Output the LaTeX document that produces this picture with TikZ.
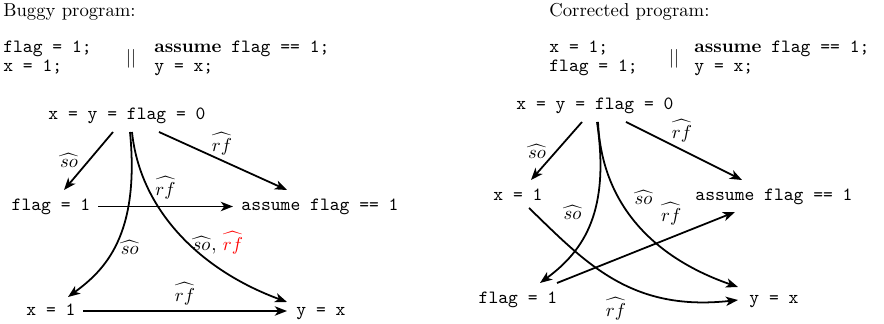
\documentclass[tikz,border=0pt]{standalone}
\usetikzlibrary{arrows.meta}
\newcommand{\soh}{\widehat{\mkern1mu so\mkern1mu}}
\newcommand{\rfh}{\widehat{rf}}
\begin{document}
\begin{tikzpicture}[x=0.535pt,y=-0.535pt,
  ev/.style={inner sep=0pt, font=\ttfamily, text height=6.5pt, text depth=2pt},
  hdr/.style={inner sep=0pt, anchor=base west},
  code/.style={hdr, font=\ttfamily},
  lbl/.style={inner sep=0pt},
  arr/.style={line width=0.95pt, -{Stealth[length=6.5pt,width=5pt,inset=1.8pt]}}]
\useasboundingbox (0,0) rectangle (884,324);

% ---------- left: buggy program ----------
\node[hdr] (lt) at (3,17) {Buggy program:};
\node[code] (lc1) at (3,53) {flag = 1;};
\node[code] (lc2) at (3,72) {x = 1;};
\node[inner sep=0pt] (lpar) at (131,58.5) {$||$};
\node[hdr] (ld1) at (154,53) {\textbf{assume}\texttt{ flag == 1;}};
\node[code] (ld2) at (154,72) {y = x;};

\node[ev] (L0) at (127,115) {x = y = flag = 0};
\node[ev] (LF) at (51,206.5) {flag = 1};
\node[ev] (LA) at (320,206.5) {assume flag == 1};
\node[ev] (LX) at (51,311) {x = 1};
\node[ev] (LY) at (321,311) {y = x};

\draw[arr] ([shift={(-14,17)}]L0.center) -- node[lbl,pos=0.5,shift={(-19.5,-1)}] {$\soh$} ([shift={(13,-16.5)}]LF.center);
\draw[arr] ([shift={(32,17)}]L0.center) -- node[lbl,pos=0.5,shift={(-1,-17)}] {$\rfh$} ([shift={(-33,-16.5)}]LA.center);
\draw[arr] ([shift={(47,0)}]LF.center) -- node[lbl,pos=0.5,shift={(0,-19)}] {$\rfh$} ([shift={(-87,0)}]LA.center);
\draw[arr] ([shift={(3,17)}]L0.center) .. controls (140,235) and (105,270) .. node[lbl,pos=0.55,shift={(17,-3)}] {$\soh$} ([shift={(17,-14)}]LX.center);
\draw[arr] ([shift={(5,17)}]L0.center) .. controls (140,210) and (200,270) .. node[lbl,pos=0.55,shift={(29,0)}] {$\soh$, {\color{red}$\rfh$}} ([shift={(-34,-9)}]LY.center);
\draw[arr] ([shift={(32,0)}]LX.center) -- node[lbl,pos=0.5,shift={(0,-17)}] {$\rfh$} ([shift={(-34,0)}]LY.center);

% ---------- right: corrected program ----------
\node[hdr] (rt) at (549,17) {Corrected program:};
\node[code] (rc1) at (549,53) {x = 1;};
\node[code] (rc2) at (549,72) {flag = 1;};
\node[inner sep=0pt] (rpar) at (674,58.5) {$||$};
\node[hdr] (rd1) at (694,53) {\textbf{assume}\texttt{ flag == 1;}};
\node[code] (rd2) at (694,72) {y = x;};

\node[ev] (R0) at (595,105) {x = y = flag = 0};
\node[ev] (RX) at (518,196) {x = 1};
\node[ev] (RA) at (774,196) {assume flag == 1};
\node[ev] (RF) at (518,299) {flag = 1};
\node[ev] (RY) at (774,299) {y = x};

\draw[arr] ([shift={(-13,17)}]R0.center) -- node[lbl,pos=0.5,shift={(-19.5,0)}] {$\soh$} ([shift={(13,-16)}]RX.center);
\draw[arr] ([shift={(31,17)}]R0.center) -- node[lbl,pos=0.5,shift={(-2,-20)}] {$\rfh$} ([shift={(-32,-16)}]RA.center);
\draw[arr] ([shift={(2,17)}]R0.center) .. controls (610,210) and (585,250) .. node[lbl,pos=0.45,shift={(-20.5,-3)}] {$\soh$} ([shift={(22,-16)}]RF.center);
\draw[arr] ([shift={(3,17)}]R0.center) .. controls (602,210) and (660,260) .. node[lbl,pos=0.35,shift={(23,-4)}] {$\soh$} ([shift={(-36,-12)}]RY.center);
\draw[arr] ([shift={(39,-16)}]RF.center) -- node[lbl,pos=0.63,shift={(2,-24)}] {$\rfh$} ([shift={(-39,16)}]RA.center);
\draw[arr] ([shift={(11,12)}]RX.center) .. controls (585,262) and (630,312) .. node[lbl,pos=0.5,shift={(2,30)}] {$\rfh$} ([shift={(-36,1)}]RY.center);
\end{tikzpicture}
\end{document}
